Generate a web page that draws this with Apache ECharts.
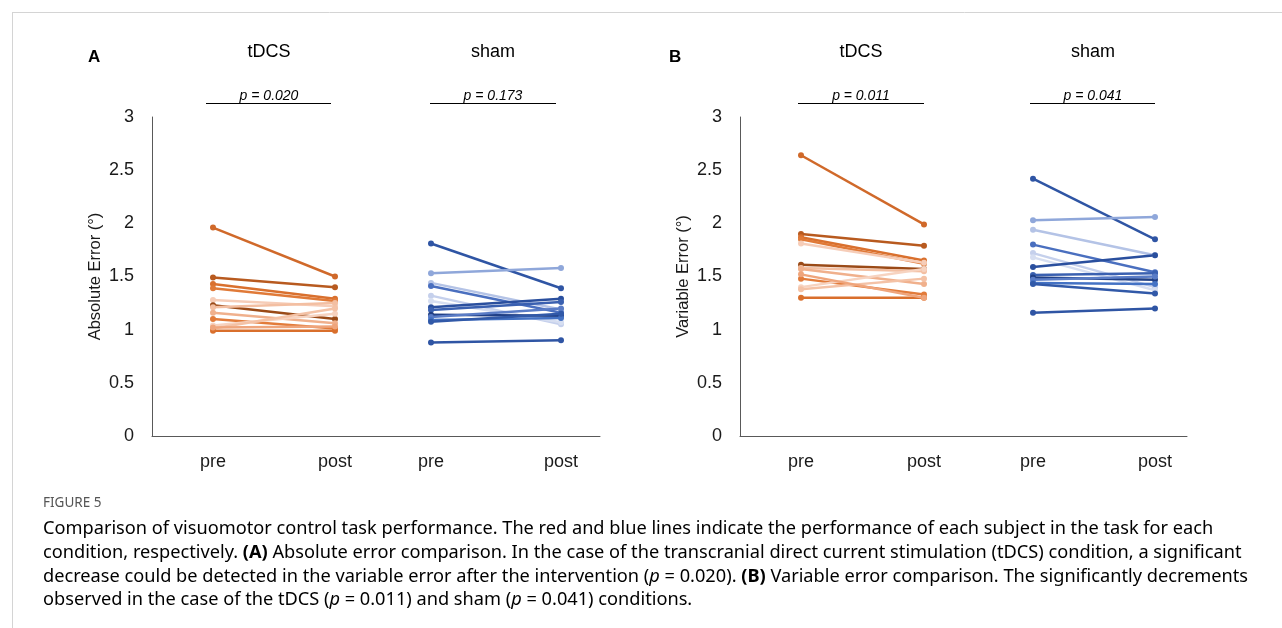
<!DOCTYPE html>
<html>
<head>
<meta charset="utf-8">
<script src="https://cdn.jsdelivr.net/npm/echarts@6/dist/echarts.min.js"></script>
<style>
html,body{margin:0;padding:0;background:#fff;}
#chart{width:1282px;height:628px;}
</style>
</head>
<body>
<div id="chart"></div>
<script>
// ---------- data ----------
const xLabels = ['pre', 'post', 'pre', 'post'];
const groupNames = ['tDCS', 'sham'];
const yTicks = [0, 0.5, 1, 1.5, 2, 2.5, 3];
// category positions along each panel's x value axis
const catPosA = [0.61, 1.83, 2.79, 4.09];
const catPosB = [0.61, 1.84, 2.93, 4.15];

// Panel A: Absolute error
const aTdcsPre  = [1.96, 1.49, 1.43, 1.39, 1.28, 1.23, 1.21, 1.16, 1.10, 1.04, 1.01, 0.99, 1.02];
const aTdcsPost = [1.50, 1.40, 1.29, 1.27, 1.22, 1.10, 1.25, 1.06, 1.01, 1.15, 1.20, 0.99, 1.03];
const aShamPre  = [1.81, 1.53, 1.44, 1.41, 1.32, 1.27, 1.21, 1.185, 1.14, 1.12, 1.09, 1.075, 0.88];
const aShamPost = [1.39, 1.58, 1.19, 1.16, 1.05, 1.07, 1.29, 1.26, 1.13, 1.20, 1.11, 1.15, 0.90];

// Panel B: Variable error
const bTdcsPre  = [2.64, 1.90, 1.87, 1.85, 1.81, 1.61, 1.58, 1.57, 1.48, 1.40, 1.38, 1.30, 1.52];
const bTdcsPost = [1.99, 1.79, 1.65, 1.62, 1.63, 1.57, 1.55, 1.43, 1.33, 1.57, 1.48, 1.30, 1.30];
const bShamPre  = [2.42, 2.03, 1.94, 1.80, 1.72, 1.68, 1.59, 1.515, 1.49, 1.47, 1.44, 1.43, 1.16];
const bShamPost = [1.85, 2.06, 1.70, 1.54, 1.40, 1.37, 1.70, 1.53, 1.47, 1.50, 1.43, 1.34, 1.20];

const pValues = ['0.020', '0.173', '0.011', '0.041'];

// ---------- styles ----------
const orangeColors = ['#D0692A', '#B85A1F', '#D9702E', '#E07A38', '#F6CDB8', '#9A4A17', '#F3BFA2',
                      '#F0B08C', '#E27B3A', '#F7D3C0', '#F4C2A6', '#D96F2C', '#EFA57C'];
const blueColors = ['#2F55A4', '#8FA7DA', '#B4C3E6', '#4A6FBF', '#C5D0EC', '#D6DEF1', '#2A4F9E',
                    '#3A60B0', '#203F85', '#5A7CC6', '#4472C4', '#3159A8', '#2F55A4'];
const FONT = '"Liberation Sans", Arial, sans-serif';

const chart = echarts.init(document.getElementById('chart'));

function makeSeries(pre, post, x0, x1, colors, axisIdx) {
  return pre.map((v, i) => ({
    type: 'line',
    xAxisIndex: axisIdx,
    yAxisIndex: axisIdx,
    data: [[x0, v], [x1, post[i]]],
    symbol: 'circle',
    symbolSize: 6,
    lineStyle: { width: 2.5, color: colors[i % colors.length] },
    itemStyle: { color: colors[i % colors.length] },
    silent: true,
    animation: false,
    z: 2
  }));
}

function xAxisFor(idx, pos, max) {
  return {
    type: 'value', gridIndex: idx, min: 0, max: max,
    axisLine: { show: true, lineStyle: { color: '#595959', width: 1 } },
    axisTick: { show: false },
    splitLine: { show: false },
    axisLabel: {
      customValues: pos,
      formatter: v => { const k = pos.findIndex(p => Math.abs(p - v) < 1e-6); return k >= 0 ? xLabels[k] : ''; },
      fontSize: 18, color: '#1a1a1a', fontFamily: FONT, margin: 17
    }
  };
}
function yAxisFor(idx, name) {
  return {
    type: 'value', gridIndex: idx, min: yTicks[0], max: yTicks[yTicks.length - 1], interval: 0.5,
    name: name, nameLocation: 'middle', nameRotate: 90, nameGap: 48,
    nameTextStyle: { fontSize: 16.5, color: '#1a1a1a', fontFamily: FONT },
    axisLine: { show: true, lineStyle: { color: '#595959', width: 1 } },
    axisTick: { show: false },
    splitLine: { show: false },
    axisLabel: { fontSize: 18, color: '#1a1a1a', fontFamily: FONT, margin: 18 }
  };
}

const series = [].concat(
  makeSeries(aTdcsPre, aTdcsPost, catPosA[0], catPosA[1], orangeColors, 0),
  makeSeries(aShamPre, aShamPost, catPosA[2], catPosA[3], blueColors, 0),
  makeSeries(bTdcsPre, bTdcsPost, catPosB[0], catPosB[1], orangeColors, 1),
  makeSeries(bShamPre, bShamPost, catPosB[2], catPosB[3], blueColors, 1)
);

// header graphics
function header(letter, lx, centers, brackets, pv) {
  const g = [];
  g.push({ type: 'text', left: lx, top: 49, style: { text: letter, font: 'bold 17px ' + FONT, fill: '#000' } });
  centers.forEach((c, i) => {
    g.push({ type: 'text', x: c, y: 52, style: { text: groupNames[i], font: '18px ' + FONT, fill: '#000', align: 'center', verticalAlign: 'middle' } });
    const b = brackets[i];
    g.push({ type: 'line', shape: { x1: b[0], y1: 103.5, x2: b[1], y2: 103.5 }, style: { stroke: '#000', lineWidth: 1 } });
    g.push({ type: 'text', x: c, y: 96, style: { text: 'p = ' + pv[i], font: 'italic 14px ' + FONT, fill: '#000', align: 'center', verticalAlign: 'middle' } });
  });
  return g;
}

const capColor = '#666666';
const capFont = '"Noto Sans", "Open Sans", sans-serif';
const CAP_SIZE = 18.2;
const rich = {
  n: { fontSize: CAP_SIZE, fontFamily: capFont, color: capColor },
  b: { fontSize: CAP_SIZE, fontFamily: capFont, color: capColor, fontWeight: 'bold' },
  i: { fontSize: CAP_SIZE, fontFamily: capFont, color: capColor, fontStyle: 'italic' }
};
const capLines = [
  '{n|Comparison of visuomotor control task performance. The red and blue lines indicate the performance of each subject in the task for each}',
  '{n|condition, respectively. }{b|(A)}{n| Absolute error comparison. In the case of the transcranial direct current stimulation (tDCS) condition, a significant}',
  '{n|decrease could be detected in the variable error after the intervention (}{i|p}{n| = 0.020). }{b|(B)}{n| Variable error comparison. The significantly decrements}',
  '{n|observed in the case of the tDCS (}{i|p}{n| = 0.011) and sham (}{i|p}{n| = 0.041) conditions.}'
];

const graphics = [].concat(
  [{ type: 'line', shape: { x1: 12, y1: 12.5, x2: 1282, y2: 12.5 }, style: { stroke: '#d4d4d4', lineWidth: 1 } },
   { type: 'line', shape: { x1: 12.5, y1: 12, x2: 12.5, y2: 628 }, style: { stroke: '#d4d4d4', lineWidth: 1 } }],
  header('A', 88, [269, 493], [[206, 331], [430, 556]], [pValues[0], pValues[1]]),
  header('B', 669, [861, 1093], [[798, 924], [1030, 1155]], [pValues[2], pValues[3]]),
  [{ type: 'text', left: 43, top: 496, style: { text: 'FIGURE 5', font: '13.5px ' + capFont, fill: '#555' } }],
  capLines.map((t, i) => ({ type: 'text', left: 43, top: 520 + i * 23.7, style: { text: t, rich: rich } }))
);

chart.setOption({
  backgroundColor: '#fff',
  animation: false,
  grid: [
    { left: 152, top: 117, width: 448, height: 319 },
    { left: 740, top: 117, width: 447, height: 319 }
  ],
  xAxis: [xAxisFor(0, catPosA, 4.48), xAxisFor(1, catPosB, 4.47)],
  yAxis: [yAxisFor(0, 'Absolute Error (°)'), yAxisFor(1, 'Variable Error (°)')],
  series: series,
  graphic: graphics
});
</script>
</body>
</html>
